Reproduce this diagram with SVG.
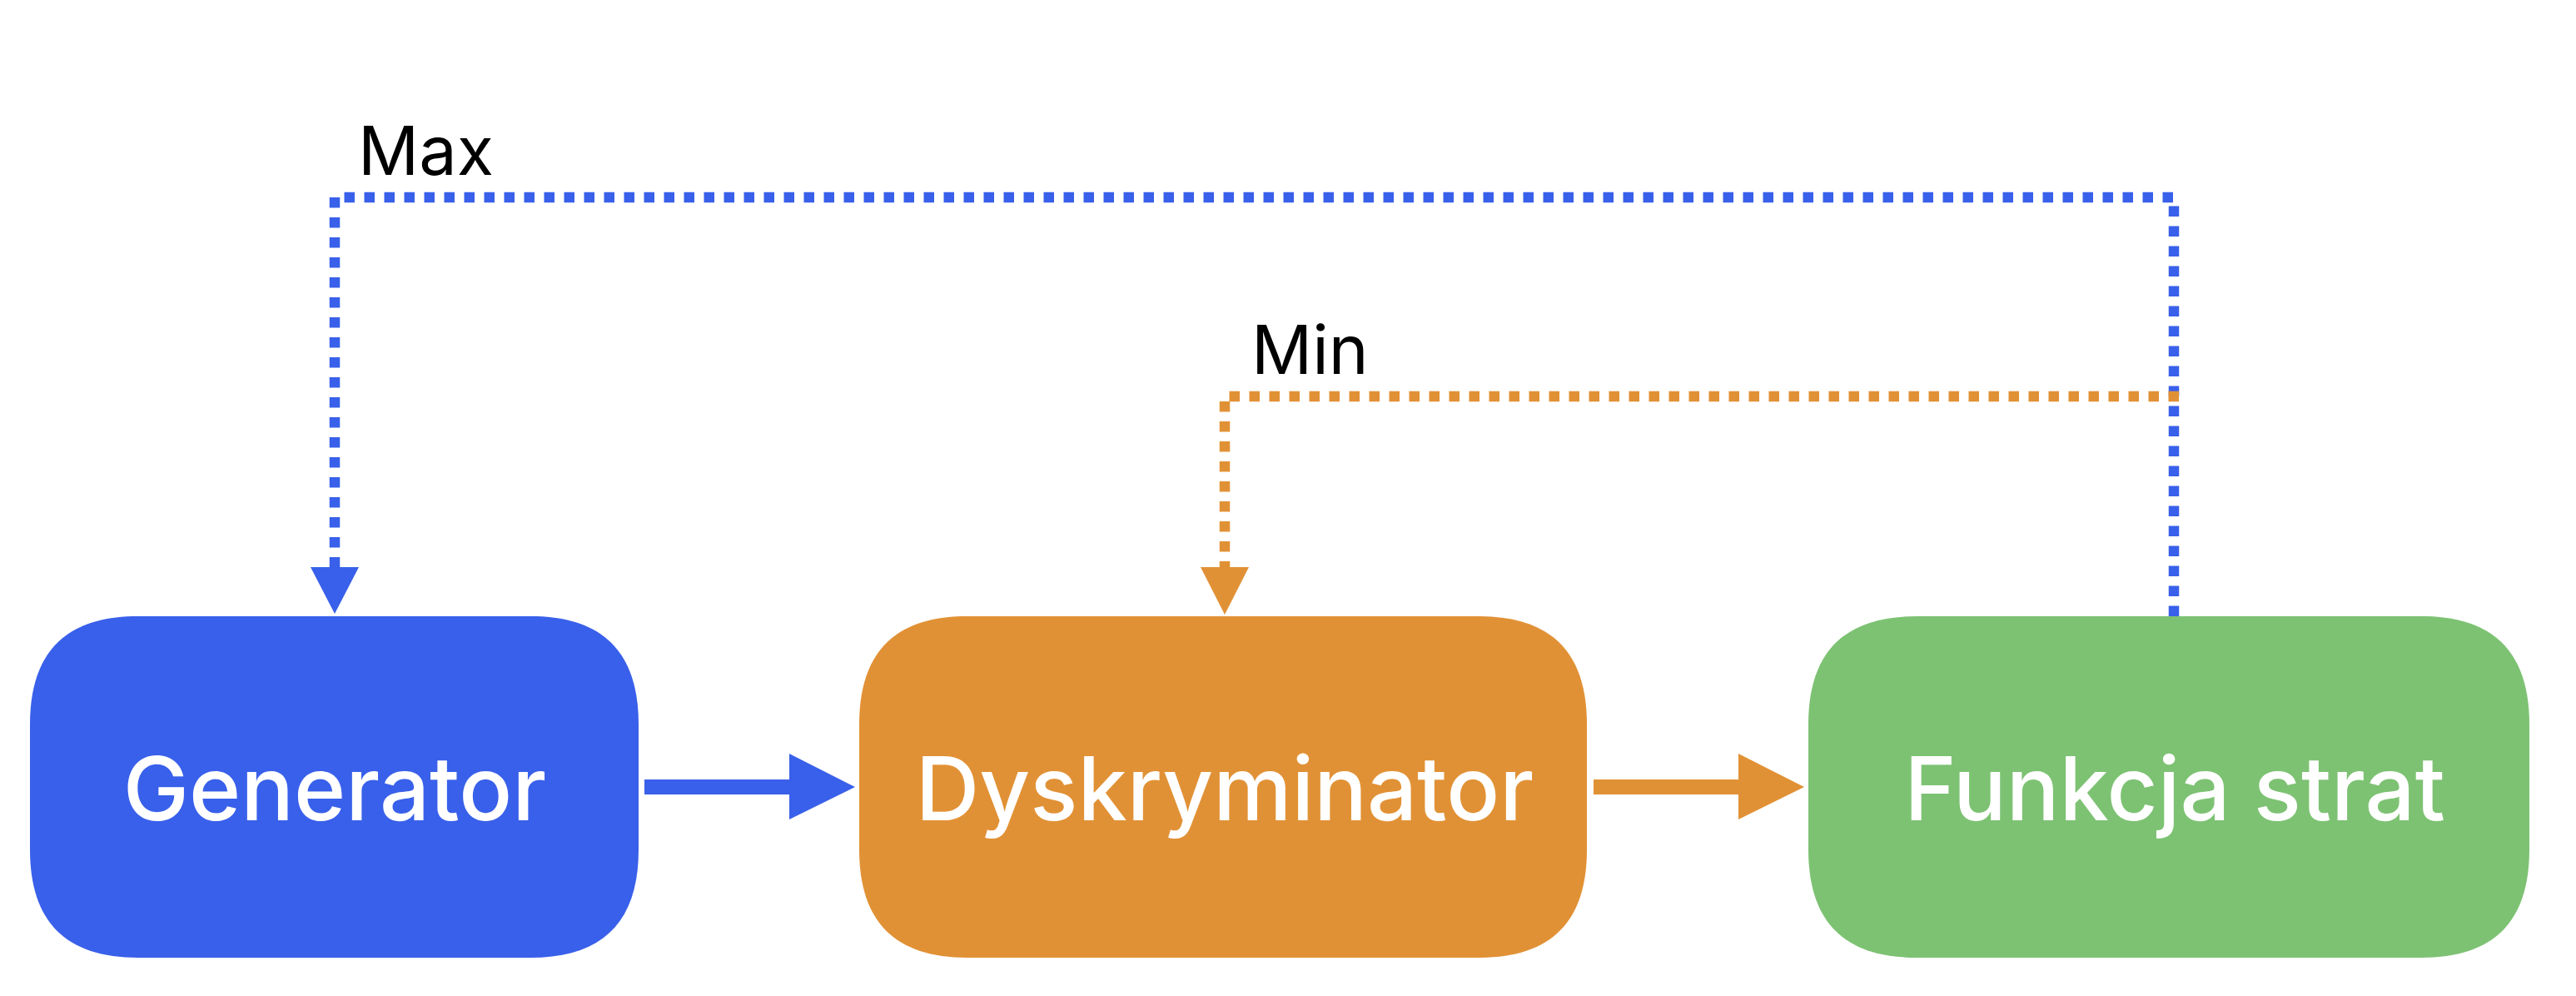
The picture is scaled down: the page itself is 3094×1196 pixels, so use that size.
<svg xmlns="http://www.w3.org/2000/svg" width="3094" height="1196" viewBox="0 0 3094 1196">
<style>
.lbl{font-family:Inter,"Noto Sans","Liberation Sans",sans-serif;font-size:106px;font-weight:500;fill:#ffffff;text-anchor:middle}
.cap{font-family:Inter,"Noto Sans","Liberation Sans",sans-serif;font-size:81px;font-weight:400;fill:#000000}
.dotb{fill:none;stroke:#3960EA;stroke-width:12.5;stroke-dasharray:12.5 11.5}
.doto{fill:none;stroke:#E19135;stroke-width:12.5;stroke-dasharray:12.5 11.5}
</style>
<rect width="3094" height="1196" fill="#ffffff"/>
<g id="node-generator">
<path fill="#3960EA" d="M166,740 H637 C724,740 767,783 767,870 V1020 C767,1107 724,1150 637,1150 H166 C79,1150 36,1107 36,1020 V870 C36,783 79,740 166,740 Z"/>
<text class="lbl" x="402" y="985">Generator</text>
</g>
<g id="node-dyskryminator">
<path fill="#E19135" d="M1162,740 H1776 C1863,740 1906,783 1906,870 V1020 C1906,1107 1863,1150 1776,1150 H1162 C1075,1150 1032,1107 1032,1020 V870 C1032,783 1075,740 1162,740 Z"/>
<text class="lbl" x="1471" y="985">Dyskryminator</text>
</g>
<g id="node-funkcja">
<path fill="#7DC273" d="M2302,740 H2908 C2995,740 3038,783 3038,870 V1020 C3038,1107 2995,1150 2908,1150 H2302 C2215,1150 2172,1107 2172,1020 V870 C2172,783 2215,740 2302,740 Z"/>
<text class="lbl" x="2612" y="985">Funkcja strat</text>
</g>
<g id="connectors">
<rect x="774" y="936" width="176" height="18" fill="#3960EA"/>
<polygon points="948,905 1027,945 948,984" fill="#3960EA"/>
<rect x="1914" y="936" width="176" height="18" fill="#E19135"/>
<polygon points="2088,905 2167,945 2088,984" fill="#E19135"/>
<path class="dotb" d="M2611,740 V237 H402 V681"/>
<polygon points="373,681 431,681 402,737" fill="#3960EA"/>
<path class="doto" d="M2617,476 H1471 V681"/>
<polygon points="1442,681 1500,681 1471,738" fill="#E19135"/>
<text class="cap" x="430" y="210">Max</text>
<text class="cap" x="1503" y="449">Min</text>
</g>
</svg>
